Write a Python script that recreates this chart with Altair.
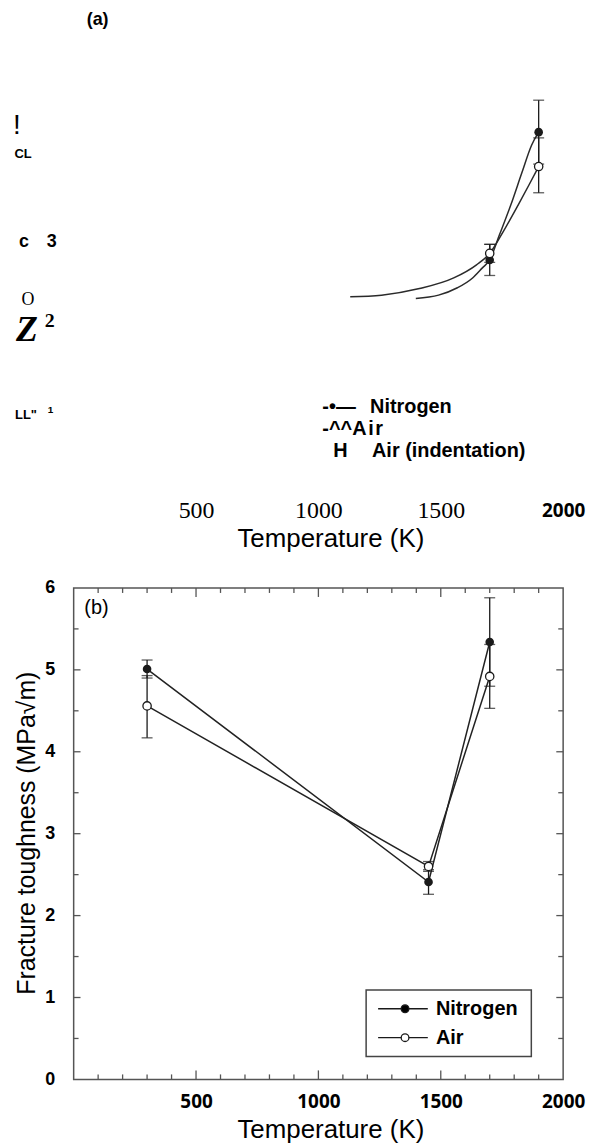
import altair as alt
import pandas as pd

# ---------------- Panel (b) data ----------------
temps_b = [300, 1450, 1700]
nitrogen_b = [5.01, 2.41, 5.34]
nitrogen_b_lo = [4.90, 2.26, 4.80]
nitrogen_b_hi = [5.12, 2.56, 5.88]
air_b = [4.56, 2.60, 4.92]
air_b_lo = [4.17, 2.54, 4.53]
air_b_hi = [4.93, 2.66, 5.31]

# ---------------- Panel (a) data ----------------
temps_a = [1700, 1900]
nitrogen_a = [2.79, 4.35]
nitrogen_a_lo = [2.60, 3.96]
nitrogen_a_hi = [2.98, 4.74]
air_a = [2.87, 3.93]
air_a_lo = [2.76, 3.61]
air_a_hi = [2.98, 4.28]

# fitted curves in panel (a)
air_curve_t = [1130, 1258, 1413, 1553, 1646, 1700, 1754, 1816, 1863, 1900]
air_curve_v = [2.34, 2.36, 2.44, 2.57, 2.73, 2.87, 3.13, 3.46, 3.72, 3.93]
n_curve_t = [1398, 1491, 1568, 1630, 1669, 1700, 1739, 1786, 1832, 1871, 1900]
n_curve_v = [2.32, 2.36, 2.45, 2.57, 2.69, 2.79, 3.09, 3.46, 3.86, 4.19, 4.35]

# axis tick values
x_tick_labels = [500, 1000, 1500, 2000]
y_tick_labels = [0, 1, 2, 3, 4, 5, 6]
x_minor = [100, 200, 300, 400, 600, 700, 800, 900, 1100, 1200, 1300, 1400,
           1600, 1700, 1800, 1900]
x_major = [500, 1000, 1500]
y_half = [0.5, 1.5, 2.5, 3.5, 4.5, 5.5]
y_int = [1, 2, 3, 4, 5]

# garbled text fragments of panel (a): (text, T, value, font, size, weight, style, align)
texts_a = [
    ("(a)", 98, 5.715, "Liberation Sans", 18, "bold", "normal", "center"),
    ("!", -232, 4.42, "Liberation Sans", 28, "normal", "normal", "center"),
    ("CL", -207, 4.08, "Liberation Sans", 13, "bold", "normal", "center"),
    ("c", -203, 3.01, "Liberation Sans", 18, "bold", "normal", "center"),
    ("3", -69, 3.01, "Liberation Sans", 18, "bold", "normal", "right"),
    ("O", -187, 2.30, "Liberation Serif", 18, "normal", "normal", "center"),
    ("Z", -191, 1.93, "Liberation Serif", 36, "bold", "italic", "center"),
    ("2", -98, 2.04, "Liberation Serif", 20, "bold", "normal", "center"),
    ("LL\"", -195, 0.90, "Liberation Sans", 13, "bold", "normal", "center"),
    ("1", -95, 0.96, "Liberation Sans", 10, "bold", "normal", "center"),
    ("-\u2022\u2014", 1016, 0.996, "Liberation Sans", 20, "bold", "normal", "left"),
    ("Nitrogen", 1211, 0.996, "Liberation Sans", 20, "bold", "normal", "left"),
    ("-^^A\u200ai\u200ar", 1016, 0.729, "Liberation Sans", 20, "bold", "normal", "left"),
    ("H", 1061, 0.462, "Liberation Sans", 20, "bold", "normal", "left"),
    ("Air (indentation)", 1219, 0.462, "Liberation Sans", 20, "bold", "normal", "left"),
]

# legend of panel (b)
legend_box = (1195, 1870, 0.279, 1.093)
legend_rows = [("Nitrogen", 0.862, "black"), ("Air", 0.510, "white")]
legend_line = (1244, 1447)
legend_marker_t = 1354
legend_text_t = 1480

W = 492
HA = 480
HB = 494
XS = alt.Scale(domain=[0, 2000], nice=False, zero=False)
YA = alt.Scale(domain=[0, 5.83], nice=False, zero=False)
YB = alt.Scale(domain=[0, 6], nice=False, zero=False)
INK = "#1a1a1a"
FRAME = "#555555"

title_common = dict(title="Temperature (K)", titleFont="Liberation Sans", titleFontSize=26,
                    titleFontWeight="normal", titleColor="black", titleX=258, titleY=50,
                    titleBaseline="middle", titleAlign="center")

cond2000 = "datum.value == 2000"
axis_a_x = alt.Axis(
    values=x_tick_labels, domain=False, ticks=False, tickSize=0, grid=False,
    labelPadding=22, labelBaseline="middle", format="d", labelFlush=False, labelOverlap=False,
    labelFont={"condition": {"test": cond2000, "value": "Open Sans"}, "value": "Liberation Serif"},
    labelFontSize={"condition": {"test": cond2000, "value": 19}, "value": 24},
    labelFontWeight={"condition": {"test": cond2000, "value": "bold"}, "value": "normal"},
    labelColor="black", **title_common)

axis_b_x = alt.Axis(
    values=x_tick_labels, domain=False, ticks=False, tickSize=0, grid=False,
    labelPadding=22, labelBaseline="middle", format="d", labelFlush=False, labelOverlap=False,
    labelFont="Open Sans", labelFontSize=19, labelFontWeight="bold", labelColor="black",
    **title_common)

axis_b_y = alt.Axis(
    values=y_tick_labels, domain=False, ticks=False, tickSize=0, grid=False,
    labelPadding=19, labelFont="Liberation Sans", labelFontSize=18, labelFontWeight="bold",
    labelColor="black", labelFlush=False, labelOverlap=False,
    title="Fracture toughness (MPa\u221am)", titleFont="Liberation Sans", titleFontSize=25,
    titleFontWeight="normal", titleColor="black", titleX=-47, titleY=246, titleAngle=270,
    titleBaseline="middle", titleAlign="center")


def enc_a():
    return dict(x=alt.X("t:Q", scale=XS, axis=axis_a_x),
                y=alt.Y("v:Q", scale=YA, axis=None))


def enc_b():
    return dict(x=alt.X("t:Q", scale=XS, axis=axis_b_x),
                y=alt.Y("v:Q", scale=YB, axis=axis_b_y))


# ---------------- build panel (a) ----------------
layers_a = []
curve_df = pd.concat([
    pd.DataFrame({"t": air_curve_t, "v": air_curve_v, "s": "Air"}),
    pd.DataFrame({"t": n_curve_t, "v": n_curve_v, "s": "Nitrogen"}),
])
layers_a.append(alt.Chart(curve_df).mark_line(color="#2a2a2a", strokeWidth=1.5,
                                              interpolate="monotone")
                .encode(detail="s:N", **enc_a()))

err_a = pd.DataFrame({"t": temps_a * 2,
                      "v": nitrogen_a_lo + air_a_lo,
                      "v2": nitrogen_a_hi + air_a_hi})
layers_a.append(alt.Chart(err_a).mark_rule(color=INK, strokeWidth=1.3)
                .encode(y2="v2:Q", **enc_a()))
cap_a = pd.DataFrame({"t": temps_a * 4,
                      "v": nitrogen_a_lo + air_a_lo + nitrogen_a_hi + air_a_hi})
layers_a.append(alt.Chart(cap_a).mark_tick(color=INK, orient="horizontal", size=11,
                                           thickness=1.3)
                .encode(**enc_a()))
layers_a.append(alt.Chart(pd.DataFrame({"t": temps_a, "v": nitrogen_a}))
                .mark_point(shape="circle", filled=True, color=INK, size=75, opacity=1)
                .encode(**enc_a()))
layers_a.append(alt.Chart(pd.DataFrame({"t": temps_a, "v": air_a}))
                .mark_point(shape="circle", fill="white", stroke=INK, strokeWidth=1.3,
                            size=70, opacity=1, fillOpacity=1)
                .encode(**enc_a()))

for (s, t, v, font, size, weight, style, align) in texts_a:
    df = pd.DataFrame({"t": [t], "v": [v], "s": [s]})
    layers_a.append(alt.Chart(df).mark_text(font=font, fontSize=size, fontWeight=weight,
                                            fontStyle=style, align=align, baseline="middle",
                                            color="black")
                    .encode(text="s:N", **enc_a()))

panel_a = alt.layer(*layers_a).properties(
    width=W, height=HA, view=alt.ViewBackground(strokeWidth=0))

# ---------------- build panel (b) ----------------
layers_b = []
# inward ticks on all four sides
xt_rows = []
for t in x_minor:
    xt_rows += [(t, 0, 0.061), (t, 6, 6 - 0.061)]
for t in x_major:
    xt_rows += [(t, 0, 0.11), (t, 6, 6 - 0.11)]
xt_df = pd.DataFrame(xt_rows, columns=["t", "v", "v2"])
layers_b.append(alt.Chart(xt_df).mark_rule(color=FRAME, strokeWidth=1.3)
                .encode(y2="v2:Q", **enc_b()))
yt_rows = []
for v in y_half:
    yt_rows += [(0, 20, v), (2000, 2000 - 20, v)]
for v in y_int:
    yt_rows += [(0, 28, v), (2000, 2000 - 28, v)]
yt_df = pd.DataFrame(yt_rows, columns=["t", "t2", "v"])
layers_b.append(alt.Chart(yt_df).mark_rule(color=FRAME, strokeWidth=1.3)
                .encode(x2="t2:Q", **enc_b()))

lines_b = pd.concat([
    pd.DataFrame({"t": temps_b, "v": nitrogen_b, "s": "Nitrogen"}),
    pd.DataFrame({"t": temps_b, "v": air_b, "s": "Air"}),
])
layers_b.append(alt.Chart(lines_b).mark_line(color="#222222", strokeWidth=1.5)
                .encode(detail="s:N", **enc_b()))
err_b = pd.DataFrame({"t": temps_b * 2,
                      "v": nitrogen_b_lo + air_b_lo,
                      "v2": nitrogen_b_hi + air_b_hi})
layers_b.append(alt.Chart(err_b).mark_rule(color=INK, strokeWidth=1.3)
                .encode(y2="v2:Q", **enc_b()))
cap_b = pd.DataFrame({"t": temps_b * 4,
                      "v": nitrogen_b_lo + air_b_lo + nitrogen_b_hi + air_b_hi})
layers_b.append(alt.Chart(cap_b).mark_tick(color=INK, orient="horizontal", size=11,
                                           thickness=1.3)
                .encode(**enc_b()))
layers_b.append(alt.Chart(pd.DataFrame({"t": temps_b, "v": nitrogen_b}))
                .mark_point(shape="circle", filled=True, color=INK, size=75, opacity=1)
                .encode(**enc_b()))
layers_b.append(alt.Chart(pd.DataFrame({"t": temps_b, "v": air_b}))
                .mark_point(shape="circle", fill="white", stroke=INK, strokeWidth=1.3,
                            size=70, opacity=1, fillOpacity=1)
                .encode(**enc_b()))

# panel label
layers_b.append(alt.Chart(pd.DataFrame({"t": [93], "v": [5.757], "s": ["(b)"]}))
                .mark_text(font="Liberation Sans", fontSize=20, align="center",
                           baseline="middle", color="black")
                .encode(text="s:N", **enc_b()))

# legend box
bx0, bx1, by0, by1 = legend_box
layers_b.append(alt.Chart(pd.DataFrame({"t": [bx0], "t2": [bx1], "v": [by0], "v2": [by1]}))
                .mark_rect(fill="white", stroke="#444444", strokeWidth=1.5)
                .encode(x2="t2:Q", y2="v2:Q", **enc_b()))
leg_df = pd.DataFrame({"s": [r[0] for r in legend_rows], "v": [r[1] for r in legend_rows],
                       "fillc": [r[2] for r in legend_rows]})
leg_df["t"] = legend_line[0]
leg_df["t2"] = legend_line[1]
layers_b.append(alt.Chart(leg_df).mark_rule(color=INK, strokeWidth=1.4)
                .encode(x2="t2:Q", **enc_b()))
leg_pts = leg_df.copy()
leg_pts["t"] = legend_marker_t
layers_b.append(alt.Chart(leg_pts).mark_point(shape="circle", stroke=INK, strokeWidth=1.3,
                                              size=60, opacity=1, fillOpacity=1)
                .encode(fill=alt.Fill("fillc:N", scale=None), **enc_b()))
leg_txt = leg_df.copy()
leg_txt["t"] = legend_text_t
layers_b.append(alt.Chart(leg_txt).mark_text(font="Liberation Sans", fontSize=20,
                                             fontWeight="bold", align="left",
                                             baseline="middle", color="black")
                .encode(text="s:N", **enc_b()))

panel_b = alt.layer(*layers_b).properties(
    width=W, height=HB, view=alt.ViewBackground(stroke=FRAME, strokeWidth=1.5))

chart = alt.vconcat(panel_a, panel_b, spacing=27).properties(
    padding={"left": 5, "top": 0, "right": 5, "bottom": 0}
).configure_view(strokeWidth=0).configure(background="white")

chart.save("out.html", embed_options={"renderer": "svg", "actions": False})
